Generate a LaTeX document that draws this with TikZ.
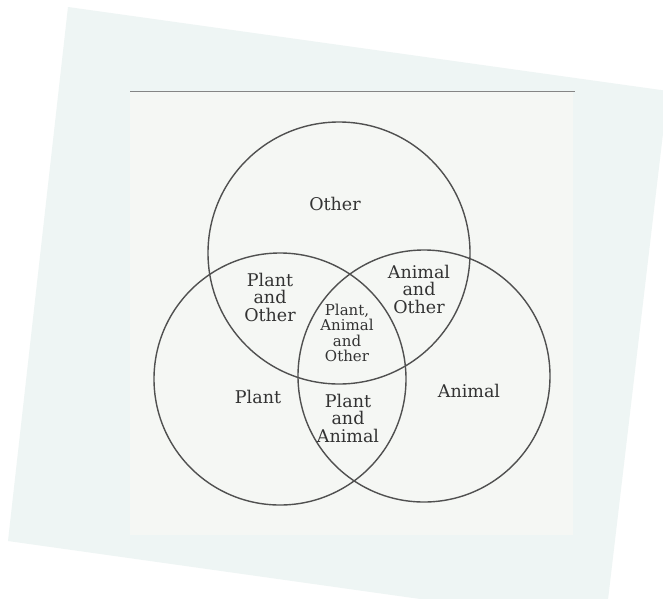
\documentclass[tikz,border=0pt]{standalone}
\usepackage{fontspec}
\setmainfont{DejaVu Serif}
\usepackage{tikz}
\definecolor{paper}{HTML}{EEF5F4}
\definecolor{sheet}{HTML}{F5F7F4}
\definecolor{ink}{HTML}{505050}
\definecolor{letter}{HTML}{333333}
\tikzset{
  setcirc/.style={circle, draw=ink, line width=1.4pt, inner sep=0pt},
  lbl/.style={align=center, text=letter, inner sep=0pt, font=\fontsize{17.5}{17.5}\selectfont},
  smalllbl/.style={lbl, font=\fontsize{15}{15.5}\selectfont}
}

\begin{document}
\begin{tikzpicture}[x=1pt, y=-1pt]
    \useasboundingbox (0,0) rectangle (663,598);
    \clip (0,0) rectangle (663,598);
    \fill[white] (0,0) rectangle (663,598);

    \coordinate (TL) at (68,7);
    \coordinate (TR) at (668,91);
    \coordinate (BR) at (605,625);
    \coordinate (BL) at (8,541);
    \fill[paper] (TL) -- (TR) -- (BR) -- (BL) -- cycle;
    \fill[sheet] (130,91) rectangle (573,535);
    \draw[ink!70, line width=1pt] (130,91) -- (575,91);

    \node[setcirc, minimum size=262pt] (other)  at (339,253) {};
    \node[setcirc, minimum size=252pt] (plant)  at (280,379) {};
    \node[setcirc, minimum size=252pt] (animal) at (424,376) {};

    \node[lbl] (tO)   at (335,204) {Other};
    \node[lbl] (tPO)  at (270,297) {Plant\\and\\Other};
    \node[lbl] (tAO)  at (419,289) {Animal\\and\\Other};
    \node[smalllbl] (tPAO) at (347,333) {Plant,\\Animal\\and\\Other};
    \node[lbl] (tP)   at (258,397) {Plant};
    \node[lbl] (tPA)  at (348,418) {Plant\\and\\Animal};
    \node[lbl] (tA)   at (469,391) {Animal};
\end{tikzpicture}
\end{document}
